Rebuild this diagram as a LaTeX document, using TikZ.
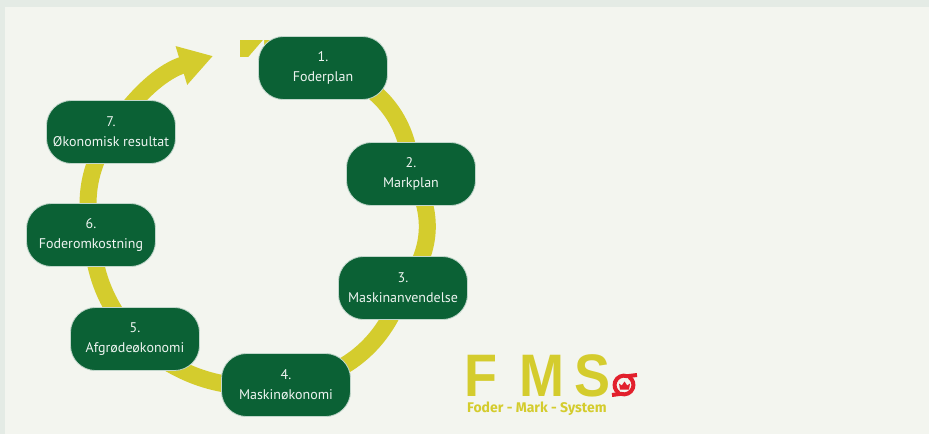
\documentclass[tikz,border=0pt]{standalone}
\usepackage{fontspec}
\setmainfont{PT Sans}
\newfontfamily\fmsfont{Liberation Sans}
\newfontfamily\subfont{Fira Sans}
\usetikzlibrary{arrows.meta,backgrounds}
\definecolor{fmsgreen}{HTML}{0B6135}
\definecolor{fmsyellow}{HTML}{D4CC2D}
\definecolor{fmsred}{HTML}{E2202C}
\definecolor{fmspage}{HTML}{F3F5EF}
\definecolor{fmsedge}{HTML}{E4EBE5}
\begin{document}
\begin{tikzpicture}
[x=1pt,y=-1pt
,st/.style={rectangle,rounded corners=25pt,draw=white!75!fmsgreen,line width=0.8pt,fill=fmsgreen
  ,text=white!93!fmsgreen,minimum width=129pt,minimum height=63pt,inner sep=0pt,align=center
  ,font=\fontsize{14}{20}\selectfont,execute at begin node={\vspace*{4.5pt}}}
,ring/.style={draw=fmsyellow,line width=17pt}
,head/.style={ring,arrows={-Triangle[length=33pt,width=38pt]}}
,fms/.style={anchor=base west,inner sep=0pt,text=fmsyellow,xscale=0.9,transform shape
  ,font=\fontsize{60}{60}\fmsfont\bfseries\selectfont}
,sub/.style={anchor=base west,inner sep=0pt,text=fmsyellow,font=\fontsize{14}{16}\subfont\bfseries\selectfont}
]
\useasboundingbox (0,0) rectangle (929,434);
\node[st] (n1) at (323,68) {1.\\Foderplan};
\node[st] (n2) at (411,174) {2.\\Markplan};
\node[st] (n3) at (403,288) {3.\\Maskinanvendelse};
\node[st] (n4) at (286,385) {4.\\Maskinøkonomi};
\node[st] (n5) at (135,339) {5.\\Afgrødeøkonomi};
\node[st] (n6) at (91,235) {6.\\Foderomkostning};
\node[st] (n7) at (111,132) {7.\\Økonomisk resultat};
\coordinate (start) at (240,48.5);
\coordinate (tip) at (213,56);
\begin{pgfonlayer}{background}
\fill[fmsedge] (0,0) rectangle (929,434);
\fill[fmspage] (5,7) rectangle (929,434);
\draw[ring] (start) -- (start -| n1.center);
\fill[fmspage] (264,39) -- (248,57.5) -- (264,58) -- cycle;
\draw[ring] (n1.center) to[bend left=39] (n2.center);
\draw[ring] (n2.center) to[bend left=37] (n3.center);
\draw[ring] (n3.center) to[bend left=32] (n4.center);
\draw[ring] (n4.center) to[bend left=23] (n5.center);
\draw[ring] (n5.center) to[bend left=17] (n6.center);
\draw[ring] (n6.center) to[bend left=21] (n7.center);
\draw[head] (n7.center) to[bend left=20] (tip);
\end{pgfonlayer}
% FMS logo
\node[fms] (f) at (464,396) {F};
\node[fms] (m) at (519,396) {M};
\node[fms] (s) at (574,396) {S};
\node[sub] (slogan) at (467,412) {Foder - Mark - System};
\draw[fmsred,line width=4pt] (637,375) -- (627.2,376.2) arc (-70:-235:9.4);
\draw[fmsred,line width=4pt] (612,395) -- (620.8,393.8) arc (110:-55:9.4);
\fill[fmsred] (620,389.5) -- (619,383.5) -- (621.8,385.5) -- (624.5,381.5) -- (627.2,385.5) -- (630,383.5) -- (629,389.5) -- cycle;
\end{tikzpicture}
\end{document}
